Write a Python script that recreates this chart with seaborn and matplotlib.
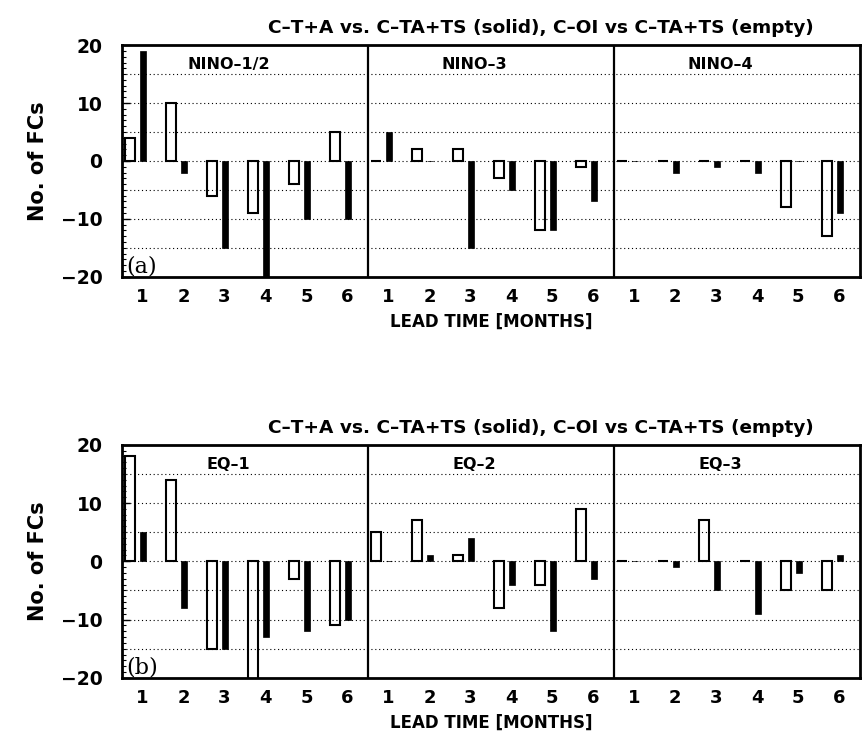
import numpy as np
import pandas as pd
import matplotlib.pyplot as plt
from matplotlib.ticker import MultipleLocator
import seaborn as sns

months = [1, 2, 3, 4, 5, 6]
regions_a = ["NINO\u20131/2", "NINO\u20133", "NINO\u20134"]
regions_b = ["EQ\u20131", "EQ\u20132", "EQ\u20133"]

# empty = C-OI vs C-TA+TS, solid = C-T+A vs C-TA+TS
nino12_empty = [4, 10, -6, -9, -4, 5]
nino12_solid = [19, -2, -15, -20, -10, -10]
nino3_empty = [0, 2, 2, -3, -12, -1]
nino3_solid = [5, 0, -15, -5, -12, -7]
nino4_empty = [0, 0, 0, 0, -8, -13]
nino4_solid = [0, -2, -1, -2, 0, -9]

eq1_empty = [18, 14, -15, -22, -3, -11]
eq1_solid = [5, -8, -15, -13, -12, -10]
eq2_empty = [5, 7, 1, -8, -4, 9]
eq2_solid = [0, 1, 4, -4, -12, -3]
eq3_empty = [0, 0, 7, 0, -5, -5]
eq3_solid = [0, -1, -5, -9, -2, 1]

title = "C\u2013T+A vs. C\u2013TA+TS (solid), C\u2013OI vs C\u2013TA+TS (empty)"


def make_frame(empties, solids):
    rows = []
    for k, (e, s) in enumerate(zip(empties, solids)):
        for m, ev, sv in zip(months, e, s):
            pos = k * 6 + m
            rows.append({"pos": pos, "empty": ev, "solid": sv})
    return pd.DataFrame(rows)


def draw_row(ax, df, regions, tag):
    sns.barplot(x=df["pos"] - 0.3, y=df["empty"], native_scale=True, width=0.25,
                fill=False, color="black", linewidth=1.5, errorbar=None, ax=ax)
    sns.barplot(x=df["pos"] + 0.02, y=df["solid"], native_scale=True, width=0.15,
                color="black", edgecolor="black", linewidth=0.5, errorbar=None,
                saturation=1, ax=ax)
    ax.set_xlim(0.5, 18.5)
    ax.set_ylim(-20, 20)
    ax.set_xticks(df["pos"])
    ax.set_xticklabels([str(m) for m in months] * 3, fontsize=13, fontweight="bold")
    ax.tick_params(axis="x", length=0, pad=8)
    ax.set_yticks([-20, -10, 0, 10, 20])
    ax.set_yticklabels(["\u221220", "\u221210", "0", "10", "20"], fontsize=13.5, fontweight="bold")
    ax.yaxis.set_minor_locator(MultipleLocator(1))
    ax.tick_params(axis="y", which="both", left=True, direction="in")
    ax.tick_params(axis="y", which="major", length=6, width=1, pad=14)
    ax.tick_params(axis="y", which="minor", length=3, width=0.8)
    for g in [-15, -10, -5, 0, 5, 10, 15]:
        ax.axhline(g, color="black", linestyle=(0, (1, 2.5)), linewidth=0.8, zorder=0)
    for sep in [6.5, 12.5]:
        ax.axvline(sep, color="black", linewidth=1.6)
    for i, r in enumerate(regions):
        ax.text(3.1 + 6 * i, 16.6, r, ha="center", va="center", fontsize=11.5, fontweight="bold")
    ax.text(0.6, -18.2, tag, ha="left", va="center", fontsize=16, family="DejaVu Serif")
    for sp in ax.spines.values():
        sp.set_visible(True)
        sp.set_linewidth(2)
        sp.set_color("black")
    ax.set_xlabel("LEAD TIME [MONTHS]", fontsize=12, fontweight="bold", labelpad=5)
    ax.set_ylabel("No. of FCs", fontsize=15, fontweight="bold")
    ax.yaxis.set_label_coords(-0.1, 0.5)


sns.set_style("white")
plt.rcParams["font.family"] = ["DejaVu Sans"]
plt.rcParams["text.color"] = "black"
plt.rcParams["axes.labelcolor"] = "black"
plt.rcParams["xtick.color"] = "black"
plt.rcParams["ytick.color"] = "black"

fig = plt.figure(figsize=(8.65, 7.4), dpi=100)
ax1 = fig.add_axes([0.141, 0.626, 0.853, 0.313])
ax2 = fig.add_axes([0.141, 0.084, 0.853, 0.315])

df_a = make_frame([nino12_empty, nino3_empty, nino4_empty], [nino12_solid, nino3_solid, nino4_solid])
df_b = make_frame([eq1_empty, eq2_empty, eq3_empty], [eq1_solid, eq2_solid, eq3_solid])

draw_row(ax1, df_a, regions_a, "(a)")
draw_row(ax2, df_b, regions_b, "(b)")

fig.text(541 / 865, 1 - 28 / 740, title, ha="center", va="center", fontsize=13.3, fontweight="bold")
fig.text(541 / 865, 1 - 428 / 740, title, ha="center", va="center", fontsize=13.3, fontweight="bold")

fig.savefig("out.png", dpi=100)
